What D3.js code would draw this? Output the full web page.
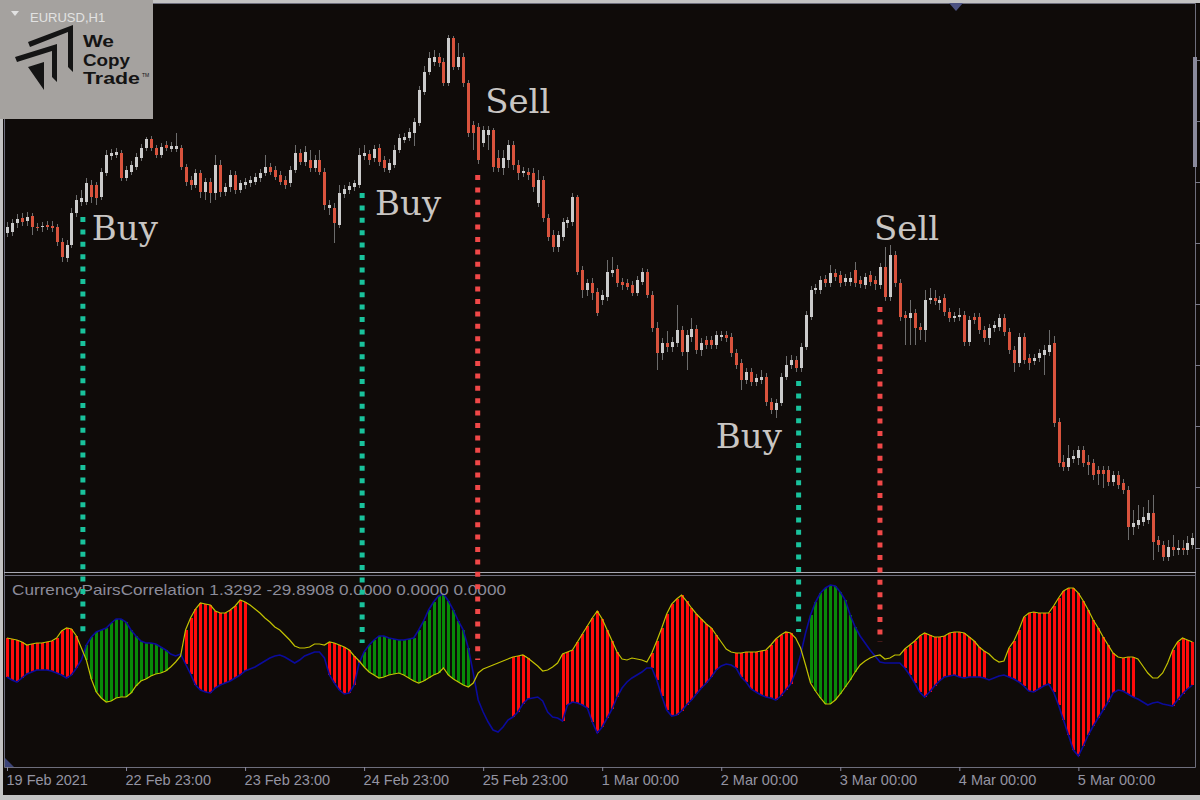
<!DOCTYPE html>
<html>
<head>
<meta charset="utf-8">
<script src="https://cdn.jsdelivr.net/npm/d3@7"></script>
<style>
  body { margin: 0; background: #c2c2c2; }
  svg { display: block; }
</style>
</head>
<body>
<div class="d3-wrapper"></div>
<script>
// EURUSD H1, one row per bar: [open, high, low, close]
const candles = [
  [1.21435,1.21490,1.21415,1.21465],[1.21440,1.21505,1.21420,1.21485],[1.21485,1.21530,1.21460,1.21505],[1.21510,1.21535,1.21470,1.21490],
  [1.21495,1.21540,1.21470,1.21515],[1.21520,1.21535,1.21425,1.21465],[1.21465,1.21485,1.21445,1.21460],[1.21465,1.21490,1.21440,1.21470],
  [1.21475,1.21495,1.21450,1.21465],[1.21470,1.21495,1.21440,1.21460],[1.21465,1.21480,1.21370,1.21390],[1.21390,1.21410,1.21290,1.21315],
  [1.21310,1.21400,1.21290,1.21375],[1.21375,1.21560,1.21360,1.21535],[1.21535,1.21625,1.21515,1.21600],[1.21590,1.21650,1.21570,1.21610],
  [1.21590,1.21710,1.21575,1.21685],[1.21675,1.21700,1.21585,1.21615],[1.21675,1.21690,1.21575,1.21610],[1.21615,1.21760,1.21600,1.21740],
  [1.21735,1.21850,1.21720,1.21825],[1.21820,1.21855,1.21800,1.21835],[1.21825,1.21860,1.21810,1.21840],[1.21835,1.21850,1.21695,1.21710],
  [1.21710,1.21770,1.21695,1.21750],[1.21740,1.21795,1.21725,1.21775],[1.21765,1.21835,1.21750,1.21815],[1.21810,1.21880,1.21795,1.21860],
  [1.21860,1.21915,1.21845,1.21905],[1.21905,1.21920,1.21845,1.21860],[1.21860,1.21875,1.21810,1.21825],[1.21825,1.21885,1.21810,1.21865],
  [1.21875,1.21895,1.21845,1.21860],[1.21855,1.21890,1.21840,1.21870],[1.21855,1.21935,1.21840,1.21870],[1.21860,1.21875,1.21750,1.21765],
  [1.21765,1.21780,1.21670,1.21690],[1.21700,1.21720,1.21650,1.21675],[1.21675,1.21755,1.21660,1.21735],[1.21735,1.21750,1.21610,1.21640],
  [1.21640,1.21710,1.21600,1.21690],[1.21690,1.21710,1.21585,1.21635],[1.21635,1.21825,1.21600,1.21775],[1.21775,1.21800,1.21615,1.21640],
  [1.21640,1.21685,1.21620,1.21665],[1.21665,1.21750,1.21640,1.21725],[1.21725,1.21745,1.21630,1.21650],[1.21650,1.21700,1.21635,1.21685],
  [1.21675,1.21710,1.21655,1.21690],[1.21685,1.21720,1.21665,1.21700],[1.21690,1.21735,1.21675,1.21715],[1.21710,1.21755,1.21690,1.21735],
  [1.21735,1.21825,1.21720,1.21765],[1.21765,1.21785,1.21725,1.21740],[1.21750,1.21770,1.21700,1.21715],[1.21725,1.21745,1.21675,1.21690],
  [1.21700,1.21720,1.21655,1.21675],[1.21685,1.21770,1.21665,1.21750],[1.21750,1.21875,1.21735,1.21835],[1.21835,1.21855,1.21775,1.21790],
  [1.21790,1.21870,1.21770,1.21840],[1.21800,1.21850,1.21740,1.21760],[1.21760,1.21825,1.21740,1.21800],[1.21800,1.21850,1.21725,1.21740],
  [1.21740,1.21760,1.21550,1.21575],[1.21560,1.21600,1.21525,1.21575],[1.21560,1.21585,1.21385,1.21485],[1.21475,1.21675,1.21460,1.21635],
  [1.21630,1.21675,1.21610,1.21655],[1.21650,1.21690,1.21630,1.21670],[1.21665,1.21700,1.21645,1.21685],[1.21675,1.21860,1.21660,1.21825],
  [1.21820,1.21875,1.21800,1.21835],[1.21830,1.21850,1.21775,1.21800],[1.21810,1.21875,1.21790,1.21855],[1.21860,1.21880,1.21770,1.21790],
  [1.21800,1.21820,1.21740,1.21760],[1.21750,1.21805,1.21735,1.21785],[1.21775,1.21875,1.21760,1.21850],[1.21850,1.21930,1.21835,1.21910],
  [1.21900,1.21935,1.21885,1.21915],[1.21910,1.21960,1.21895,1.21940],[1.21935,1.22010,1.21870,1.21990],[1.21985,1.22170,1.21970,1.22150],
  [1.22140,1.22270,1.22125,1.22240],[1.22240,1.22340,1.22225,1.22310],[1.22290,1.22350,1.22270,1.22315],[1.22315,1.22335,1.22265,1.22285],
  [1.22290,1.22310,1.22170,1.22185],[1.22185,1.22425,1.22170,1.22410],[1.22410,1.22420,1.22250,1.22265],[1.22265,1.22385,1.22250,1.22315],
  [1.22315,1.22335,1.22165,1.22185],[1.22185,1.22200,1.21915,1.21935],[1.21975,1.21995,1.21850,1.21935],[1.21965,1.21985,1.21780,1.21800],
  [1.21885,1.21970,1.21865,1.21950],[1.21925,1.21970,1.21850,1.21950],[1.21950,1.21960,1.21740,1.21765],[1.21810,1.21850,1.21740,1.21760],
  [1.21760,1.21850,1.21725,1.21810],[1.21800,1.21900,1.21760,1.21875],[1.21875,1.21895,1.21750,1.21775],[1.21775,1.21800,1.21700,1.21735],
  [1.21735,1.21765,1.21715,1.21745],[1.21740,1.21760,1.21700,1.21725],[1.21735,1.21760,1.21640,1.21665],[1.21585,1.21750,1.21565,1.21700],
  [1.21700,1.21720,1.21490,1.21510],[1.21510,1.21530,1.21395,1.21415],[1.21425,1.21450,1.21340,1.21365],[1.21365,1.21445,1.21340,1.21425],
  [1.21415,1.21510,1.21395,1.21490],[1.21485,1.21515,1.21460,1.21500],[1.21490,1.21635,1.21470,1.21615],[1.21615,1.21625,1.21225,1.21240],
  [1.21250,1.21270,1.21110,1.21150],[1.21150,1.21205,1.21120,1.21185],[1.21185,1.21210,1.21100,1.21135],[1.21140,1.21160,1.21020,1.21035],
  [1.21100,1.21150,1.21075,1.21125],[1.21115,1.21300,1.21095,1.21240],[1.21235,1.21315,1.21215,1.21250],[1.21255,1.21275,1.21165,1.21185],
  [1.21190,1.21210,1.21150,1.21175],[1.21185,1.21205,1.21150,1.21165],[1.21175,1.21195,1.21120,1.21135],[1.21135,1.21220,1.21120,1.21200],
  [1.21190,1.21260,1.21175,1.21240],[1.21240,1.21255,1.21110,1.21125],[1.21125,1.21145,1.20940,1.20960],[1.20960,1.20990,1.20750,1.20835],
  [1.20835,1.20910,1.20800,1.20885],[1.20885,1.20945,1.20840,1.20865],[1.20865,1.20915,1.20840,1.20890],[1.20885,1.21075,1.20865,1.20950],
  [1.20950,1.20970,1.20820,1.20840],[1.20840,1.20950,1.20750,1.20925],[1.20915,1.21010,1.20890,1.20955],[1.20955,1.20975,1.20830,1.20850],
  [1.20850,1.20910,1.20820,1.20885],[1.20900,1.20920,1.20855,1.20875],[1.20900,1.20920,1.20855,1.20875],[1.20875,1.20945,1.20855,1.20925],
  [1.20915,1.20945,1.20895,1.20925],[1.20925,1.20945,1.20890,1.20910],[1.20915,1.20935,1.20815,1.20835],[1.20835,1.20855,1.20755,1.20775],
  [1.20785,1.20805,1.20650,1.20700],[1.20700,1.20760,1.20680,1.20740],[1.20740,1.20760,1.20670,1.20690],[1.20690,1.20730,1.20670,1.20710],
  [1.20700,1.20750,1.20680,1.20715],[1.20715,1.20735,1.20570,1.20590],[1.20590,1.20610,1.20530,1.20550],[1.20550,1.20605,1.20510,1.20585],
  [1.20585,1.20735,1.20570,1.20715],[1.20715,1.20820,1.20700,1.20775],[1.20775,1.20825,1.20755,1.20800],[1.20800,1.20820,1.20740,1.20760],
  [1.20760,1.20885,1.20740,1.20865],[1.20865,1.21045,1.20850,1.21025],[1.21015,1.21170,1.21000,1.21150],[1.21150,1.21180,1.21130,1.21160],
  [1.21150,1.21220,1.21130,1.21200],[1.21205,1.21225,1.21165,1.21185],[1.21185,1.21275,1.21165,1.21235],[1.21235,1.21255,1.21195,1.21215],
  [1.21225,1.21245,1.21165,1.21185],[1.21190,1.21230,1.21170,1.21210],[1.21190,1.21240,1.21170,1.21210],[1.21250,1.21290,1.21165,1.21185],
  [1.21200,1.21220,1.21160,1.21180],[1.21175,1.21235,1.21155,1.21215],[1.21225,1.21245,1.21170,1.21190],[1.21200,1.21220,1.21150,1.21180],
  [1.21175,1.21285,1.21155,1.21265],[1.21265,1.21365,1.21095,1.21115],[1.21115,1.21375,1.21095,1.21325],[1.21325,1.21345,1.21165,1.21185],
  [1.21185,1.21205,1.20995,1.21015],[1.21025,1.21045,1.20875,1.21010],[1.21010,1.21100,1.20875,1.21035],[1.21035,1.21055,1.20875,1.20960],
  [1.20965,1.20985,1.20900,1.20950],[1.20950,1.21150,1.20890,1.21100],[1.21100,1.21160,1.21080,1.21110],[1.21110,1.21150,1.21075,1.21095],
  [1.21085,1.21120,1.21050,1.21100],[1.21110,1.21130,1.21020,1.21040],[1.21040,1.21060,1.20990,1.21010],[1.21010,1.21040,1.20990,1.21020],
  [1.21015,1.21060,1.20995,1.21025],[1.21025,1.21045,1.20870,1.20890],[1.20890,1.21020,1.20870,1.21000],[1.21015,1.21035,1.20980,1.21000],
  [1.21015,1.21035,1.20930,1.20950],[1.20950,1.20970,1.20890,1.20910],[1.20910,1.20980,1.20875,1.20960],[1.20960,1.20995,1.20940,1.20975],
  [1.20965,1.21030,1.20945,1.21010],[1.21010,1.21030,1.20920,1.20940],[1.20940,1.20960,1.20830,1.20850],[1.20850,1.20870,1.20740,1.20785],
  [1.20785,1.20935,1.20765,1.20915],[1.20915,1.20935,1.20780,1.20800],[1.20810,1.20830,1.20750,1.20785],[1.20795,1.20830,1.20775,1.20810],
  [1.20810,1.20855,1.20790,1.20835],[1.20825,1.20875,1.20725,1.20850],[1.20840,1.20950,1.20820,1.20875],[1.20885,1.20920,1.20465,1.20485],
  [1.20490,1.20510,1.20265,1.20285],[1.20290,1.20325,1.20245,1.20265],[1.20265,1.20375,1.20245,1.20310],[1.20305,1.20350,1.20285,1.20320],
  [1.20310,1.20370,1.20275,1.20350],[1.20350,1.20370,1.20265,1.20285],[1.20290,1.20325,1.20225,1.20275],[1.20285,1.20305,1.20200,1.20225],
  [1.20250,1.20270,1.20175,1.20230],[1.20250,1.20270,1.20160,1.20230],[1.20250,1.20270,1.20170,1.20190],[1.20190,1.20245,1.20170,1.20225],
  [1.20225,1.20245,1.20155,1.20175],[1.20185,1.20205,1.20130,1.20150],[1.20150,1.20170,1.19900,1.19965],[1.19965,1.20050,1.19925,1.19985],
  [1.19975,1.20075,1.19955,1.20000],[1.19990,1.20065,1.19970,1.20015],[1.20000,1.20100,1.19980,1.20035],[1.20035,1.20125,1.19800,1.19890],
  [1.19900,1.19920,1.19840,1.19875],[1.19875,1.19895,1.19795,1.19815],[1.19815,1.19900,1.19795,1.19865],[1.19865,1.19925,1.19820,1.19850],
  [1.19850,1.19900,1.19825,1.19860],[1.19860,1.19900,1.19825,1.19850],[1.19850,1.19920,1.19825,1.19885],[1.19875,1.19935,1.19855,1.19910]
];

// CurrencyPairsCorrelation buffers, one value per bar
const fastLine = [
  2.5,2,1.5,0.5,-1,-0.5,0,0,0.5,1,2.5,6,7.5,7,3.5,-2.5,-8.5,-18,-24.5,-27.5,
  -29.5,-29,-27.5,-27,-27,-25,-21.5,-19,-18,-16.5,-15.5,-15,-14,-12,-9.5,-6.5,6.5,12.5,17,20,
  19.5,19,16,15,15,16.5,18.5,21.5,20.5,19,17,15,12.5,10.5,8,6.5,4,1.5,-1.5,-2.5,
  -2.5,-2,-0.5,-0.5,-1,0.5,0,-1,-2,-3.5,-6.5,-9,-12,-14.5,-16,-17.5,-17,-16,-15.5,-15,
  -16,-17.5,-19,-20,-19,-17.5,-16,-15,-12.5,-16,-18,-19.5,-21,-22,-20,-15,-13,-12,-11,-10,
  -9,-8,-7,-6.5,-6,-7.5,-9.5,-11.5,-14,-13.5,-12,-10,-5.5,-4.5,-3.5,0.5,4.5,8.5,12.5,16,
  12,6.5,1,-4.5,-8,-8.5,-7.5,-8,-8.5,-9.5,-5,1,7.5,14.5,19.5,22,24,21,17.5,14.5,
  12,9.5,7.5,4,0.5,-3,-4.5,-5,-5,-4.5,-4.5,-4.5,-4,-3.5,-1,2,4,5.5,5,2.5,
  -2.5,-11,-20,-24,-27.5,-30.5,-30.5,-28.5,-25.5,-22,-18.5,-14.5,-11,-9,-7.5,-6.5,-6,-8,-7.5,-6,
  -6,-3,-1,1,3.5,5,4,3,3,3.5,5,5.5,5.5,5,3,1,-2,-4,-5.5,-8,
  -9.5,-9,-2.5,1,6.5,13,15,15.5,15,15,15,18.5,22.5,26,27.5,27.5,25,21,16.5,11.5,
  7.5,3,-1,-5,-7,-7.5,-7,-7,-8,-11.5,-15,-17.5,-17.5,-15,-10,-3.5,0.5,2.5,1.5,0.5
];
const slowLine = [
  -17,-18.5,-19.5,-17.5,-15.5,-14.5,-13.5,-13.5,-13.5,-14,-15,-16,-17.5,-16,-12.5,-8.5,-1,3,5.5,6.5,
  7.5,10,12,12,10.5,6.5,3.5,1,0,0,-0.5,-2,-3.5,-5.5,-6.5,-5.5,-10.5,-15.5,-21,-23.5,
  -24.5,-25,-22.5,-21,-20,-19,-17.5,-16,-14,-13,-12,-10.5,-9,-7.5,-6.5,-6,-7,-8.5,-10,-8.5,
  -6.5,-5.5,-4.5,-4.5,-7.5,-16,-20,-23.5,-25.5,-25,-21,-10,-4.5,-1,1.5,3.5,3.5,2.5,2,1.5,
  1.5,2,2.5,6.5,11,16.5,20.5,23.5,24.5,21,16.5,11,6.5,-2.5,-15,-28.5,-34.5,-39.5,-43.5,-44.5,
  -42,-38.5,-37,-34.5,-30.5,-28,-27.5,-27,-29,-34.5,-37,-37.5,-39,-31,-29.5,-30,-31,-32.5,-39.5,-45,
  -42,-37.5,-33,-27,-22.5,-19.5,-17.5,-16,-14.5,-12.5,-12.5,-18.5,-26.5,-33.5,-36.5,-36,-34,-31,-28.5,-25.5,
  -22.5,-20,-17,-13.5,-11.5,-10.5,-11,-12.5,-17,-19.5,-23,-24.5,-26,-27,-27.5,-28.5,-26.5,-23.5,-20.5,-14.5,
  -6,5,14,20.5,25,27.5,29,28.5,25.5,21.5,14,8,3.5,0,-3.5,-6.5,-9.5,-10,-10,-10,
  -10,-12.5,-16,-20,-24.5,-27,-24.5,-21.5,-19,-17,-16.5,-16,-17,-17.5,-17,-17,-17,-17.5,-18.5,-17.5,
  -16.5,-16,-17,-18,-19.5,-21.5,-24,-24.5,-23,-21.5,-20.5,-24.5,-31,-38.5,-46,-53.5,-56.5,-51.5,-46,-41.5,
  -37.5,-33.5,-29.5,-25,-23.5,-24,-25.5,-27,-28,-29.5,-31,-30,-29.5,-30.5,-31,-31.5,-28.5,-25.5,-23,-21
];
// bars where the histogram is drawn [first, last]
const histRanges = [[0,14],[16,32],[36,48],[65,70],[71,93],[102,105],[112,123],[130,143],[147,158],[162,171],[181,197],[202,223],[225,227],[235,239]];

// time axis
const tickBars = [0, 24, 48, 72, 96, 120, 144, 168, 192, 216];
const tickLabels = ['19 Feb 2021', '22 Feb 23:00', '23 Feb 23:00', '24 Feb 23:00', '25 Feb 23:00',
  '1 Mar 00:00', '2 Mar 00:00', '3 Mar 00:00', '4 Mar 00:00', '5 Mar 00:00'];
const priceTicks = [1.22300, 1.21995, 1.21690, 1.21385, 1.21080, 1.20775, 1.20470, 1.20165, 1.19860];

// signals: bar, price where the marker starts, indicator value where it ends
const signalType = ['Buy', 'Buy', 'Sell', 'Buy', 'Sell'];
const signalBar = [15.3, 71.6, 94.9, 159.6, 176];
const signalPrice = [1.21515, 1.21635, 1.21725, 1.20695, 1.21065];
const signalInd = [5.5, 0, -8.5, 5.5, 0.5];
const labelBar = [17.1, 74.2, 96.4, 142.9, 174.8];
const labelPrice = [1.21400, 1.21525, 1.22035, 1.20360, 1.21400];

const headerText = 'CurrencyPairsCorrelation 1.3292 -29.8908 0.0000 0.0000 0.0000';
const logoWords = ['We', 'Copy', 'Trade'];
const logoWidths = [31, 47, 57];

const W = 1200, H = 800;
const MAIN = { left: 5, top: 4, right: 1195, bottom: 572 };
const SUB = { left: 5, top: 576, right: 1195, bottom: 767 };
const FIRST_X = 7, BAR_STEP = 4.96;
const BG = '#0f0b09';
const BULL = '#cbcbcb', BEAR = '#d9533d';
const UI_FONT = '"Liberation Sans", Arial, sans-serif';

const xScale = d3.scaleLinear()
  .domain([0, candles.length - 1])
  .range([FIRST_X, FIRST_X + (candles.length - 1) * BAR_STEP]);
const yScale = d3.scaleLinear().domain([1.1974, 1.2260]).range([572, 0]);
const yInd = d3.scaleLinear().domain([-62, 33]).range([767, 577]);

const svg = d3.select('.d3-wrapper').append('svg')
  .attr('width', W)
  .attr('height', H);

// frame + background
svg.append('rect').attr('width', W).attr('height', H).attr('fill', '#c3c3c3');
svg.append('rect').attr('x', 3).attr('y', 3).attr('width', W - 3).attr('height', 792).attr('fill', BG);

const defs = svg.append('defs');
defs.append('clipPath').attr('id', 'clip-main').append('rect')
  .attr('x', MAIN.left).attr('y', MAIN.top)
  .attr('width', MAIN.right - MAIN.left).attr('height', MAIN.bottom - MAIN.top);
defs.append('clipPath').attr('id', 'clip-sub').append('rect')
  .attr('x', SUB.left).attr('y', SUB.top)
  .attr('width', SUB.right - SUB.left).attr('height', SUB.bottom - SUB.top);

// ---- candles
const main = svg.append('g').attr('clip-path', 'url(#clip-main)');

main.selectAll('line.wick')
  .data(candles)
  .enter()
  .append('line')
  .attr('class', 'wick')
  .attr('x1', (d, i) => Math.round(xScale(i)) + 0.5)
  .attr('x2', (d, i) => Math.round(xScale(i)) + 0.5)
  .attr('y1', d => yScale(d[1]))
  .attr('y2', d => yScale(d[2]))
  .attr('stroke', '#6c6c6c')
  .attr('stroke-width', 1);

main.selectAll('rect.body')
  .data(candles)
  .enter()
  .append('rect')
  .attr('class', 'body')
  .attr('x', (d, i) => Math.round(xScale(i)) - 1)
  .attr('y', d => yScale(Math.max(d[0], d[3])))
  .attr('width', 3)
  .attr('height', d => Math.max(1, Math.abs(yScale(d[0]) - yScale(d[3]))))
  .attr('fill', d => d[3] >= d[0] ? BULL : BEAR);

// ---- indicator window
const sub = svg.append('g').attr('clip-path', 'url(#clip-sub)');

const histBars = histRanges.flatMap(([a, b]) => d3.range(a, b + 1));
sub.selectAll('rect.hist')
  .data(histBars)
  .enter()
  .append('rect')
  .attr('class', 'hist')
  .attr('x', i => Math.round(xScale(i)) - 1)
  .attr('y', i => yInd(Math.max(fastLine[i], slowLine[i])))
  .attr('width', 3)
  .attr('height', i => Math.abs(yInd(fastLine[i]) - yInd(slowLine[i])))
  .attr('fill', i => fastLine[i] >= slowLine[i] ? '#ff0b0b' : '#088a08');

const line = d3.line().x((d, i) => xScale(i)).y(d => yInd(d));
sub.append('path')
  .attr('d', line(slowLine))
  .attr('fill', 'none')
  .attr('stroke', '#0b0b9c')
  .attr('stroke-width', 1.6);
sub.append('path')
  .attr('d', line(fastLine))
  .attr('fill', 'none')
  .attr('stroke', '#c2c200')
  .attr('stroke-width', 1.2);

svg.append('text')
  .attr('x', 12)
  .attr('y', 595)
  .attr('fill', '#8c8c9a')
  .attr('textLength', 494)
  .attr('lengthAdjust', 'spacingAndGlyphs')
  .style('font', `15px ${UI_FONT}`)
  .text(headerText);

// ---- panel borders
const border = svg.append('g').attr('fill', 'none').attr('stroke-width', 1);
border.append('path').attr('stroke', '#6e6e7c')
  .attr('d', 'M4.5,3.5H1195.5V767.5H4.5Z');
border.append('line').attr('stroke', '#a9a9b2')
  .attr('x1', 4).attr('x2', 1196).attr('y1', 572.5).attr('y2', 572.5);
border.append('line').attr('stroke', '#6e6e7c')
  .attr('x1', 4).attr('x2', 1196).attr('y1', 575.5).attr('y2', 575.5);

// price scale ticks (labels are off-screen)
svg.append('g')
  .attr('transform', `translate(${MAIN.right},0)`)
  .call(d3.axisRight(yScale).tickValues(priceTicks).tickFormat('').tickSize(5).tickSizeOuter(0))
  .call(g => g.select('.domain').remove())
  .call(g => g.selectAll('line').attr('stroke', '#7a7a88'));

svg.append('rect')
  .attr('x', 1193).attr('y', 57).attr('width', 4).attr('height', 110)
  .attr('fill', '#8a8a9c');

// time axis
svg.append('g')
  .attr('transform', `translate(0,${SUB.bottom})`)
  .call(d3.axisBottom(xScale).tickValues(tickBars).tickFormat((d, i) => tickLabels[i]).tickSize(4).tickSizeOuter(0))
  .call(g => g.select('.domain').remove())
  .call(g => g.selectAll('line').attr('stroke', '#8a8aa0'))
  .call(g => g.selectAll('text')
    .attr('text-anchor', 'start')
    .attr('x', -1)
    .attr('y', 8)
    .attr('fill', '#9494a2')
    .style('font', `14.5px ${UI_FONT}`));

// small markers
svg.append('path').attr('d', 'M949,3H963L956,11Z').attr('fill', '#4c5282');
svg.append('path').attr('d', 'M5,758V767H14Z').attr('fill', '#3c4478');

// ---- signals
const signals = svg.append('g');
signalType.forEach((t, k) => {
  const x = xScale(signalBar[k]);
  signals.append('line')
    .attr('x1', x).attr('x2', x)
    .attr('y1', yScale(signalPrice[k]))
    .attr('y2', yInd(signalInd[k]))
    .attr('stroke', t === 'Buy' ? '#19c29c' : '#f04848')
    .attr('stroke-width', 5)
    .attr('stroke-dasharray', '5,7.4');
  signals.append('text')
    .attr('x', xScale(labelBar[k]))
    .attr('y', yScale(labelPrice[k]))
    .attr('fill', '#c9c6c3')
    .style('font', '34px "DejaVu Serif", serif')
    .text(t);
});

// ---- logo box
const logo = svg.append('g');
logo.append('rect').attr('width', 153).attr('height', 119).attr('fill', '#a5a29f');
logo.append('path').attr('d', 'M11,11H19L15,16Z').attr('fill', '#e2e2e2');
logo.append('text')
  .attr('x', 30).attr('y', 22)
  .attr('fill', '#e2e2e2')
  .style('font', `13px ${UI_FONT}`)
  .text('EURUSD,H1');
logo.append('path').attr('fill', '#141414')
  .attr('d', 'M28,42L73,25V72L68,67V32L30,47Z M15,57L57,44V82L52,77V51L17,62Z M28,67L44,62V90Z');

// wordmark: tight leading, stretched to the logo's widths
logoWords.forEach((w, k) => {
  logo.append('text')
    .attr('x', 83)
    .attr('y', 47 + k * 18.5)
    .attr('fill', '#141414')
    .attr('textLength', logoWidths[k])
    .attr('lengthAdjust', 'spacingAndGlyphs')
    .style('font', `bold 16.5px ${UI_FONT}`)
    .text(w);
});
logo.append('text')
  .attr('x', 142).attr('y', 77)
  .attr('fill', '#141414')
  .style('font', `5px ${UI_FONT}`)
  .text('TM');
</script>
</body>
</html>
